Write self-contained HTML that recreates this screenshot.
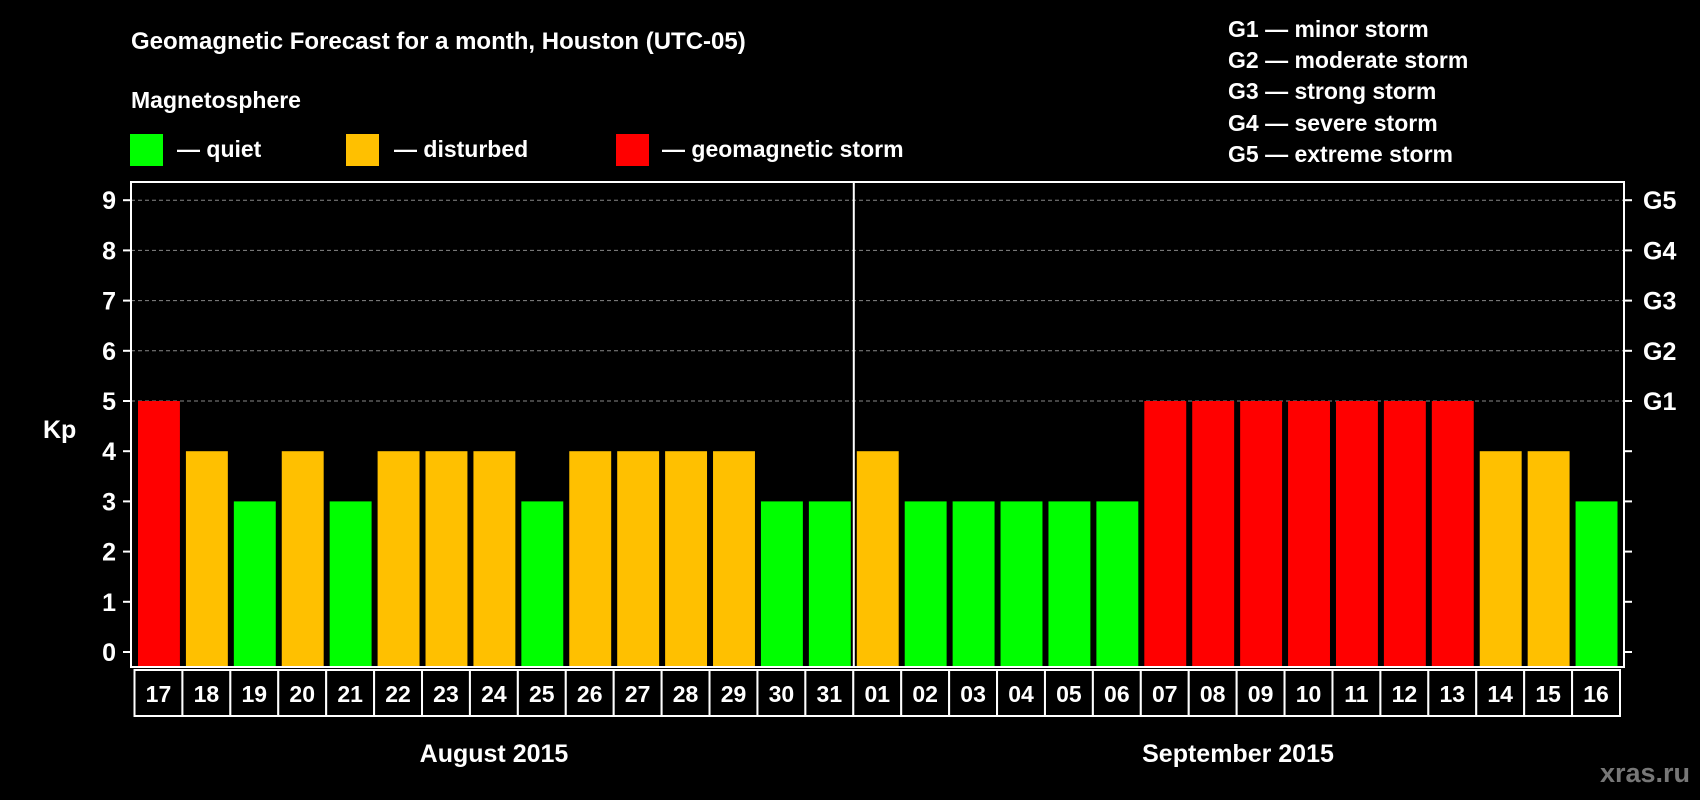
<!DOCTYPE html>
<html><head><meta charset="utf-8"><style>
html,body{margin:0;padding:0;background:#000;}
svg{display:block;font-family:"Liberation Sans",Arial,sans-serif;font-weight:bold;}
</style></head><body>
<svg id="chart" width="1700" height="800" viewBox="0 0 1700 800" xmlns="http://www.w3.org/2000/svg">
<rect x="0" y="0" width="1700" height="800" fill="#000"/>
<text x="131" y="49" fill="#fff" font-size="24">Geomagnetic Forecast for a month, Houston (UTC-05)</text>
<text x="131" y="108" fill="#fff" font-size="23">Magnetosphere</text>
<g>
<rect x="130" y="134" width="33" height="32" fill="#00ff00"/>
<text x="177" y="157" fill="#fff" font-size="23">— quiet</text></g>
<g>
<rect x="346" y="134" width="33" height="32" fill="#ffc000"/>
<text x="394" y="157" fill="#fff" font-size="23">— disturbed</text></g>
<g>
<rect x="616" y="134" width="33" height="32" fill="#ff0000"/>
<text x="662" y="157" fill="#fff" font-size="23">— geomagnetic storm</text></g>
<g font-size="23" fill="#fff">
<text x="1228" y="37">G1 — minor storm</text>
<text x="1228" y="68">G2 — moderate storm</text>
<text x="1228" y="99">G3 — strong storm</text>
<text x="1228" y="131">G4 — severe storm</text>
<text x="1228" y="162">G5 — extreme storm</text>
</g>
<text x="43" y="438" fill="#fff" font-size="25">Kp</text>
<g id="grid"></g><g id="bars"></g><g id="axes"></g><g id="labels"></g>
<text x="494" y="762" fill="#fff" font-size="25" text-anchor="middle">August 2015</text>
<text x="1238" y="762" fill="#fff" font-size="25" text-anchor="middle">September 2015</text>
<text x="1690" y="782" fill="#777" font-size="27" text-anchor="end">xras.ru</text>
</svg>
<script>
const days = ["17","18","19","20","21","22","23","24","25","26","27","28","29","30","31","01","02","03","04","05","06","07","08","09","10","11","12","13","14","15","16"];
const kpValues = [5,4,3,4,3,4,4,4,3,4,4,4,4,3,3,4,3,3,3,3,3,5,5,5,5,5,5,5,4,4,3];
const yTicks = [0,1,2,3,4,5,6,7,8,9];
const gLabels = ["G1","G2","G3","G4","G5"];
const gLevels = [5,6,7,8,9];
const monthSplitIndex = 15;

const NS="http://www.w3.org/2000/svg";
const L=131,R=1624,T=182,B=667;
const x0=134.5, pitch=(1620-134.5)/days.length;
function y(v){return 652 - v*50.2;}
function xb(i){return x0 + i*pitch;}
function mk(tag,attrs,parent){const e=document.createElementNS(NS,tag);for(const k in attrs)e.setAttribute(k,attrs[k]);parent.appendChild(e);return e;}
function color(v){return v>=5?"#ff0000":(v>=4?"#ffc000":"#00ff00");}

const grid=document.getElementById('grid'),bars=document.getElementById('bars'),axes=document.getElementById('axes'),labels=document.getElementById('labels');
gLevels.forEach((g,i)=>{
  const ln=mk('line',{x1:L,x2:R,y1:y(g),y2:y(g),stroke:'#888','stroke-dasharray':'4,3','stroke-width':1},grid);
  
  
  const t=mk('text',{x:R+19,y:y(g)+9,fill:'#fff','font-size':25},axes);
  t.textContent=gLabels[i];
  
  
});
kpValues.forEach((v,i)=>{
  const r=mk('rect',{x:xb(i)+3.5,y:y(v),width:pitch-6,height:y(0)-y(v)+15,fill:color(v)},bars);
  
  
});
const box=mk('rect',{x:L,y:T,width:R-L,height:B-T,fill:'none',stroke:'#fff','stroke-width':2},axes);


const dv=mk('line',{x1:xb(monthSplitIndex)+0.5,x2:xb(monthSplitIndex)+0.5,y1:T,y2:B,stroke:'#fff','stroke-width':2},axes);


yTicks.forEach(v=>{
  const tl=mk('line',{x1:L-8,x2:L,y1:y(v),y2:y(v),stroke:'#fff','stroke-width':2},axes);
  
  
  const tr=mk('line',{x1:R,x2:R+8,y1:y(v),y2:y(v),stroke:'#fff','stroke-width':2},axes);
  
  
  const t=mk('text',{x:116,y:y(v)+9,fill:'#fff','font-size':25,'text-anchor':'end'},axes);
  t.textContent=v;
  
  
});
days.forEach((d,i)=>{
  const r=mk('rect',{x:xb(i),y:670,width:pitch,height:46,fill:'#000',stroke:'#fff','stroke-width':2},labels);
  
  
  const t=mk('text',{x:xb(i)+pitch/2,y:702,fill:'#fff','font-size':23,'text-anchor':'middle'},labels);
  t.textContent=d;
  
  
});
</script>
</body></html>
